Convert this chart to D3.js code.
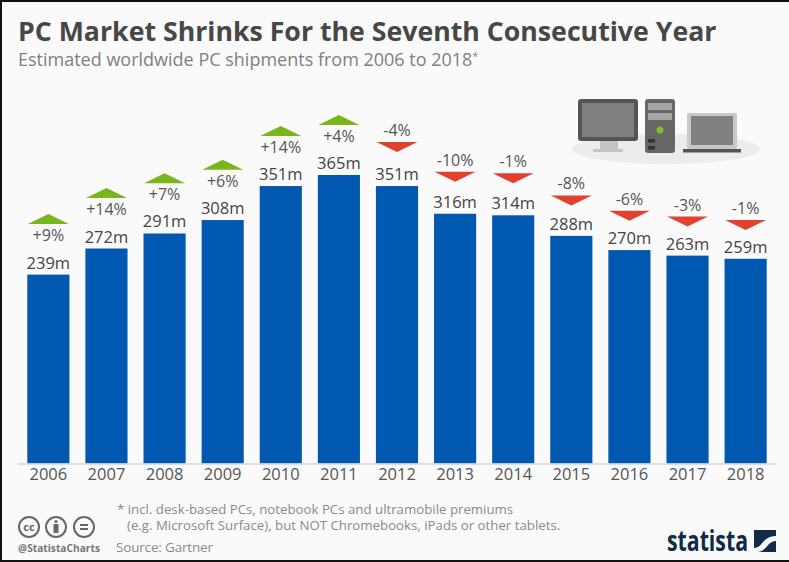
<!DOCTYPE html>
<html>
<head>
<meta charset="utf-8">
<script src="https://cdn.jsdelivr.net/npm/d3@7"></script>
<style>
  html, body { margin: 0; padding: 0; background: #fff; overflow: hidden; }
  text { font-family: "Open Sans", sans-serif; }
</style>
</head>
<body>
<svg id="chart"></svg>
<script>
const years = ["2006", "2007", "2008", "2009", "2010", "2011", "2012", "2013", "2014", "2015", "2016", "2017", "2018"];
const shipments = [239, 272, 291, 308, 351, 365, 351, 316, 314, 288, 270, 263, 259];
const changes = ["+9%", "+14%", "+7%", "+6%", "+14%", "+4%", "-4%", "-10%", "-1%", "-8%", "-6%", "-3%", "-1%"];

const width = 789, height = 562;
const svg = d3.select("#chart").attr("width", width).attr("height", height).style("display", "block");

// card with the dark frame
svg.append("rect").attr("width", width).attr("height", height).attr("fill", "#fafafa");
svg.append("path")
  .attr("d", `M1 ${height - 1}V1H${width}M0 ${height - 1}H${width}`)
  .attr("fill", "none").attr("stroke", "#111").attr("stroke-width", 2);

svg.append("text").attr("x", 18).attr("y", 41)
  .attr("font-size", 26.7).attr("font-weight", 700).attr("fill", "#474747")
  .text("PC Market Shrinks For the Seventh Consecutive Year");

const sub = svg.append("text").attr("x", 18).attr("y", 66)
  .attr("font-size", 18).attr("fill", "#808080")
  .text("Estimated worldwide PC shipments from 2006 to 2018");
sub.append("tspan").attr("font-size", 10).attr("dy", -6).text("*");

const x = d3.scaleBand().domain(years).range([18, 776]).paddingInner(0.275).paddingOuter(0.16);
const y = d3.scaleLinear().domain([0, 365]).range([463.5, 175]);

// the wedges do not sit at a fixed distance from the bars
const wedgeUp = d3.scaleLinear().domain([239, 365]).range([214, 115]);
const wedgeDown = d3.scaleLinear().domain([259, 351]).range([220, 142]);

const chart = svg.append("g");

chart.selectAll("rect.bar")
  .data(years)
  .enter()
  .append("rect")
  .attr("class", "bar")
  .attr("x", d => x(d))
  .attr("width", x.bandwidth())
  .attr("y", (d, i) => y(shipments[i]))
  .attr("height", (d, i) => y(0) - y(shipments[i]))
  .attr("fill", "#0058b0");

// baseline + year labels
const axis = svg.append("g")
  .attr("transform", `translate(0,${y(0)})`)
  .call(d3.axisBottom(x).tickSize(0).tickPadding(5));
axis.select(".domain").attr("d", "M18 0.5H776").attr("stroke", "#d5d5d5").attr("stroke-width", 1.5);
axis.selectAll("text").attr("font-size", 16.5).attr("fill", "#555").style("font-family", '"Open Sans", sans-serif');

chart.selectAll("text.value")
  .data(years)
  .enter()
  .append("text")
  .attr("class", "value")
  .attr("x", d => x(d) + x.bandwidth() / 2)
  .attr("y", (d, i) => y(shipments[i]) - 6)
  .attr("text-anchor", "middle")
  .attr("font-size", 16.5).attr("font-weight", 500).attr("fill", "#444")
  .text((d, i) => shipments[i] + "m");

const isUp = i => changes[i][0] === "+";

chart.selectAll("text.change")
  .data(years)
  .enter()
  .append("text")
  .attr("class", "change")
  .attr("x", d => x(d) + x.bandwidth() / 2)
  .attr("y", (d, i) => isUp(i) ? wedgeUp(shipments[i]) + 27 : wedgeDown(shipments[i]) - 6)
  .attr("text-anchor", "middle")
  .attr("font-size", 16).attr("fill", "#555")
  .text((d, i) => changes[i]);

// green wedge above, red wedge below the percent label
chart.selectAll("path.wedge")
  .data(years)
  .enter()
  .append("path")
  .attr("class", "wedge")
  .attr("d", (d, i) => {
    const cx = x(d) + x.bandwidth() / 2;
    return isUp(i)
      ? `M${cx - 20.5} ${wedgeUp(shipments[i]) + 10}L${cx} ${wedgeUp(shipments[i])}L${cx + 20.5} ${wedgeUp(shipments[i]) + 10}Z`
      : `M${cx - 20.5} ${wedgeDown(shipments[i])}L${cx} ${wedgeDown(shipments[i]) + 10}L${cx + 20.5} ${wedgeDown(shipments[i])}Z`;
  })
  .attr("fill", (d, i) => isUp(i) ? "#7ab51d" : "#e2412e");

// computer illustration
const icon = svg.append("g");
icon.append("ellipse").attr("cx", 666).attr("cy", 149).attr("rx", 94).attr("ry", 15).attr("fill", "#ececec");
icon.append("rect").attr("x", 600).attr("y", 140).attr("width", 18).attr("height", 9).attr("fill", "#c4c4c4");
icon.append("rect").attr("x", 593).attr("y", 149).attr("width", 30).attr("height", 3).attr("fill", "#c4c4c4");
icon.append("rect").attr("x", 578).attr("y", 99).attr("width", 60).attr("height", 42).attr("rx", 3).attr("fill", "#555");
icon.append("rect").attr("x", 582).attr("y", 103).attr("width", 52).attr("height", 34).attr("fill", "#808080");
icon.append("rect").attr("x", 645).attr("y", 99).attr("width", 30).attr("height", 54).attr("rx", 3).attr("fill", "#666");
icon.append("rect").attr("x", 648).attr("y", 103).attr("width", 24).attr("height", 7).attr("fill", "#a5a5a5");
icon.append("rect").attr("x", 648).attr("y", 113).attr("width", 24).attr("height", 7).attr("fill", "#a5a5a5");
icon.append("circle").attr("cx", 660).attr("cy", 130).attr("r", 3.5).attr("fill", "#7fc02c");
icon.append("rect").attr("x", 648).attr("y", 139).attr("width", 7).attr("height", 3.5).attr("fill", "#333");
icon.append("rect").attr("x", 648).attr("y", 146).attr("width", 7).attr("height", 3.5).attr("fill", "#333");
icon.append("rect").attr("x", 687).attr("y", 113).attr("width", 50).attr("height", 36).attr("rx", 2).attr("fill", "#c8c8c8");
icon.append("rect").attr("x", 691).attr("y", 116).attr("width", 42).attr("height", 29).attr("fill", "#808080");
icon.append("rect").attr("x", 683).attr("y", 149).attr("width", 58).attr("height", 3.5).attr("fill", "#555");

// footnote + source
svg.append("text").attr("x", 117).attr("y", 514).attr("font-size", 13.25).attr("fill", "#8a8a8a")
  .text("* incl. desk-based PCs, notebook PCs and ultramobile premiums");
svg.append("text").attr("x", 127).attr("y", 530).attr("font-size", 13.25).attr("fill", "#8a8a8a")
  .text("(e.g. Microsoft Surface), but NOT Chromebooks, iPads or other tablets.");
svg.append("text").attr("x", 116).attr("y", 552).attr("font-size", 13.5).attr("fill", "#8a8a8a")
  .attr("textLength", 97)
  .text("Source: Gartner");

svg.append("text").attr("x", 18).attr("y", 552)
  .attr("font-size", 10.2).attr("font-weight", 700).attr("fill", "#777")
  .text("@StatistaCharts");

// licence badges
const badges = svg.append("g").attr("fill", "none").attr("stroke", "#666").attr("stroke-width", 2);
[29, 56, 84].forEach(cx => badges.append("circle").attr("cx", cx).attr("cy", 527).attr("r", 10));
badges.append("text").attr("x", 29).attr("y", 531).attr("text-anchor", "middle")
  .attr("font-size", 11).attr("font-weight", 700).attr("fill", "#666").attr("stroke", "none").text("cc");
badges.append("circle").attr("cx", 56).attr("cy", 521.5).attr("r", 1.6).attr("fill", "#666").attr("stroke", "none");
badges.append("rect").attr("x", 53.5).attr("y", 524).attr("width", 5).attr("height", 9).attr("fill", "#666").attr("stroke", "none");
badges.append("path").attr("d", "M80 525H88M80 529H88");

// statista wordmark
svg.append("text").attr("x", 667).attr("y", 551)
  .attr("font-size", 28).attr("font-weight", 700).attr("fill", "#0f2b46")
  .attr("textLength", 81).attr("lengthAdjust", "spacingAndGlyphs")
  .style("font-family", '"Liberation Sans Narrow", "Open Sans", sans-serif')
  .text("statista");
svg.append("rect").attr("x", 754).attr("y", 530).attr("width", 22).attr("height", 22).attr("fill", "#0f2b46");
svg.append("path").attr("d", "M754 548C763 548 762 536 776 536V541C767 541 767 552 757 552H754Z").attr("fill", "#fafafa");
</script>
</body>
</html>
